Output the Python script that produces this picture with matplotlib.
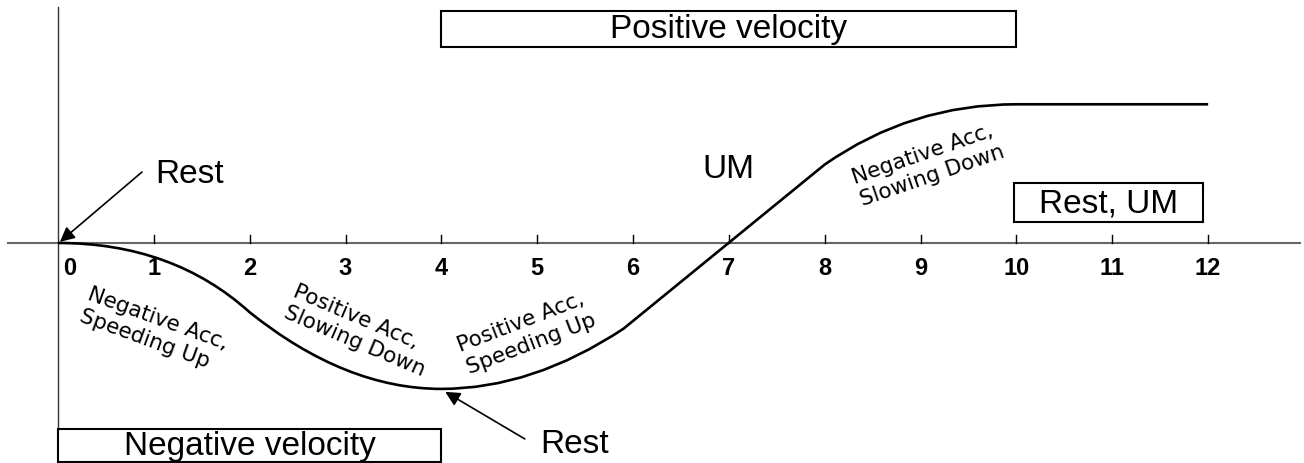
import numpy as np
import matplotlib.pyplot as plt
from matplotlib.path import Path
from matplotlib.patches import PathPatch, Rectangle

# position vs time (knots of the curve)
knot_t = [0, 2, 4, 5.9, 8, 10, 12]
knot_x = [0, -1.9, -4.0, -2.35, 2.15, 3.8, 3.8]
# quadratic control point of every segment (None -> straight piece)
ctrl_t = [1.2, 3.0, 4.95, None, 8.9, None]
ctrl_x = [0.0, -4.0, -4.0, None, 3.8, None]

tick_values = list(range(0, 13))

phase_labels = ['Negative Acc,\nSpeeding Up', 'Positive Acc,\nSlowing Down',
                'Positive Acc,\nSpeeding Up', 'Negative Acc,\nSlowing Down']
phase_pos = [(1.0, -2.36), (3.14, -2.38), (4.89, -2.44), (9.08, 2.16)]
phase_rot = [-20, -23, 21, 19]

# velocity boxes: (t_start, t_end, y_bottom, y_top, text)
boxes = [(4, 10, 5.37, 6.36, 'Positive velocity'),
         (0, 4, -6.0, -5.10, 'Negative velocity'),
         (9.97, 11.95, 0.575, 1.64, 'Rest, UM')]

main_font = ['Liberation Sans', 'DejaVu Sans']

fig = plt.figure(figsize=(13.04, 4.64), dpi=100)
ax = fig.add_axes([0, 0, 1, 1])
ax.set_xlim(-0.605, 13.0)
ax.set_ylim(-6.03, 6.685)
ax.axis('off')

# axes lines
ax.plot([-0.52, 12.96], [0, 0], color='#666666', lw=1.5, zorder=1)
ax.plot([0, 0], [-5.10, 6.47], color='#333333', lw=1.0, zorder=1)
for t in tick_values[1:]:
    ax.plot([t, t], [0, 0.22], color='k', lw=1.0)
for t in tick_values:
    xt = t + 0.125 if t == 0 else t
    ax.text(xt, -0.66, str(t), ha='center', va='center', fontsize=17,
            fontweight='bold', family=main_font)

# the curve, built from quadratic segments
verts = [(knot_t[0], knot_x[0])]
codes = [Path.MOVETO]
for i in range(len(knot_t) - 1):
    if ctrl_t[i] is None:
        verts.append((knot_t[i + 1], knot_x[i + 1]))
        codes.append(Path.LINETO)
    else:
        verts += [(ctrl_t[i], ctrl_x[i]), (knot_t[i + 1], knot_x[i + 1])]
        codes += [Path.CURVE3, Path.CURVE3]
ax.add_patch(PathPatch(Path(verts, codes), fill=False, lw=1.9, color='k',
                       capstyle='butt', zorder=3))

for (xc, yc), lab, rot in zip(phase_pos, phase_labels, phase_rot):
    ax.text(xc, yc, lab, ha='center', va='center', rotation=rot,
            rotation_mode='anchor', fontsize=15.5, multialignment='left',
            linespacing=1.2)

for t0, t1, y0, y1, lab in boxes:
    ax.add_patch(Rectangle((t0, y0), t1 - t0, y1 - y0, fill=False,
                           lw=1.5, ec='k', zorder=2))
    ax.text((t0 + t1) / 2, (y0 + y1) / 2, lab, ha='center', va='center',
            fontsize=24, family=main_font)

ax.text(1.377, 1.89, 'Rest', ha='center', va='center', fontsize=24, family=main_font)
ax.text(6.99, 2.03, 'UM', ha='center', va='center', fontsize=24, family=main_font)
ax.text(5.385, -5.5, 'Rest', ha='center', va='center', fontsize=24, family=main_font)

arrow = dict(arrowstyle='-|>', mutation_scale=22, lw=1.2, color='k',
             shrinkA=0, shrinkB=0)
ax.annotate('', xy=(0.02, 0.03), xytext=(0.877, 1.945), arrowprops=arrow)
ax.annotate('', xy=(4.04, -4.08), xytext=(4.87, -5.37), arrowprops=arrow)

fig.savefig('out.png', dpi=100)
